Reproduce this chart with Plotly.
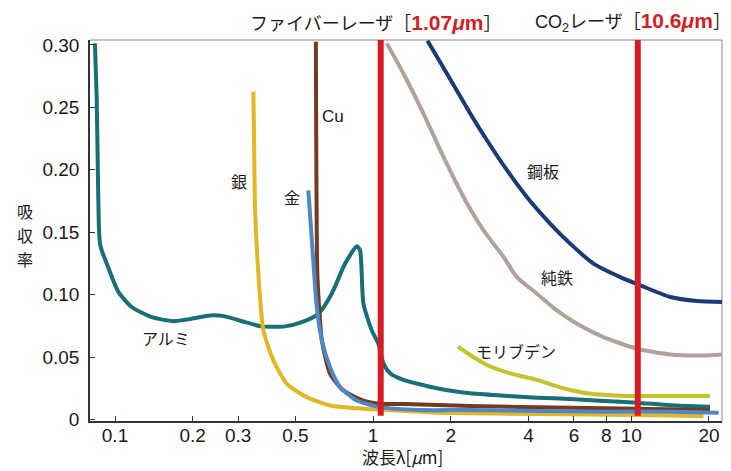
import plotly.graph_objects as go
import math

# ---- data (wavelength in µm, absorptance) ----
alu_x = [0.0836, 0.0849, 0.0857, 0.0867, 0.0875, 0.0888, 0.0929, 0.103, 0.116, 0.1387, 0.1683,
         0.198, 0.2334, 0.267, 0.319, 0.370, 0.456, 0.529, 0.614, 0.691, 0.779, 0.865, 0.890,
         0.917, 0.988, 1.048, 1.096, 1.164, 1.31, 1.766, 2.377, 3.20, 4.31, 5.80, 7.81, 10.52,
         14.16, 20.2]
alu_y = [0.3013, 0.2585, 0.2053, 0.1516, 0.1409, 0.1355, 0.1249, 0.1022, 0.0901, 0.0820, 0.0788,
         0.0807, 0.0834, 0.0826, 0.0780, 0.0746, 0.0746, 0.0780, 0.0848, 0.1008, 0.1249, 0.1387,
         0.1355, 0.0928, 0.0714, 0.0607, 0.0450, 0.0370, 0.0317, 0.0250, 0.0210, 0.0191, 0.0175,
         0.0164, 0.0148, 0.0135, 0.0114, 0.0103]

silver_x = [0.3436, 0.3457, 0.3487, 0.3592, 0.3757, 0.4108, 0.4629, 0.5534, 0.681, 0.917, 1.236,
            1.766, 4.31, 10.52, 19.06]
silver_y = [0.2625, 0.2237, 0.1702, 0.1168, 0.0714, 0.0473, 0.0286, 0.0179, 0.0112, 0.0086, 0.0072,
            0.0055, 0.0044, 0.0036, 0.0028]

gold_x = [0.561, 0.579, 0.605, 0.633, 0.681, 0.745, 0.865, 1.064, 1.52, 2.377, 4.31, 7.81, 14.16, 21.8]
gold_y = [0.1836, 0.1435, 0.0900, 0.0634, 0.0419, 0.0259, 0.0152, 0.0099, 0.0076, 0.0076, 0.0068,
          0.0063, 0.0063, 0.0055]

cu_x = [0.600, 0.608, 0.620, 0.633, 0.681, 0.767, 0.917, 1.064, 1.31, 2.377, 5.80, 10.52, 20.2]
cu_y = [0.3026, 0.1168, 0.0850, 0.0634, 0.0366, 0.0233, 0.0152, 0.0126, 0.0124, 0.0108, 0.0095,
        0.0087, 0.0076]

steel_x = [1.624, 1.93, 2.377, 2.76, 3.30, 3.94, 4.85, 5.80, 7.14, 9.07, 10.84, 14.16, 17.98, 22.47]
steel_y = [0.3034, 0.2772, 0.2452, 0.2237, 0.1997, 0.1783, 0.1570, 0.1409, 0.1249, 0.1141, 0.1075,
           0.0981, 0.0949, 0.0941]

iron_x = [1.130, 1.31, 1.567, 1.873, 2.239, 2.677, 3.20, 3.606, 4.31, 5.15, 6.16, 7.81, 10.52,
          14.16, 19.06, 22.47]
iron_y = [0.3013, 0.2772, 0.2451, 0.2103, 0.1783, 0.1516, 0.1302, 0.1141, 0.1008, 0.0874, 0.0767,
          0.0660, 0.0567, 0.0521, 0.0513, 0.0521]

mo_x = [2.13, 2.377, 2.76, 3.40, 4.31, 5.47, 6.73, 9.07, 12.21, 20.2]
mo_y = [0.0583, 0.0517, 0.0437, 0.0370, 0.0317, 0.0250, 0.0210, 0.0191, 0.0188, 0.0188]

laser_x = [1.07, 10.6]

x_ticks = [0.1, 0.2, 0.3, 0.5, 1, 2, 4, 6, 8, 10, 20]
x_tick_labels = ["0.1", "0.2", "0.3", "0.5", "1", "2", "4", "6", "8", "10", "20"]
y_ticks = [0, 0.05, 0.10, 0.15, 0.20, 0.25, 0.30]
y_tick_labels = ["0", "0.05", "0.10", "0.15", "0.20", "0.25", "0.30"]

series = [
    ("アルミ", alu_x, alu_y, "#176f78"),
    ("銀", silver_x, silver_y, "#e3b624"),
    ("Cu", cu_x, cu_y, "#763a20"),
    ("金", gold_x, gold_y, "#4d87c7"),
    ("純鉄", iron_x, iron_y, "#b0a19b"),
    ("鋼板", steel_x, steel_y, "#1b3a77"),
    ("モリブデン", mo_x, mo_y, "#c8c22a"),
]

label_text = ["アルミ", "銀", "金", "Cu", "鋼板", "純鉄", "モリブデン"]
label_x = [0.158, 0.303, 0.485, 0.70, 4.56, 5.17, 3.58]
label_y = [0.0653, 0.191, 0.178, 0.243, 0.199, 0.114, 0.0549]

y_title_chars = ["吸", "収", "率"]

TXT = "#231815"
RED = "#d71c23"
FONT = "Liberation Sans, Noto Sans CJK JP, sans-serif"
JP = "Noto Sans CJK JP, sans-serif"

fig = go.Figure()
for name, xs, ys, col in series:
    fig.add_trace(go.Scatter(x=xs, y=ys, mode="lines", name=name,
                             line=dict(color=col, width=4, shape="spline", smoothing=0.6),
                             showlegend=False, hoverinfo="skip"))

YMIN, YMAX = -0.0012, 0.304
for lx in laser_x:
    fig.add_shape(type="line", x0=lx, x1=lx, y0=0.003, y1=YMAX, xref="x", yref="y",
                  line=dict(color=RED, width=6), layer="above")

# grey top/right frame
fig.add_shape(type="line", x0=0, x1=1, y0=1, y1=1, xref="paper", yref="paper",
              line=dict(color="#8c8c8c", width=1), layer="below")
fig.add_shape(type="line", x0=1, x1=1, y0=0, y1=1, xref="paper", yref="paper",
              line=dict(color="#8c8c8c", width=1), layer="below")

for t, x, y in zip(label_text, label_x, label_y):
    fam = FONT if t == "Cu" else JP
    fig.add_annotation(x=math.log10(x), y=y, xref="x", yref="y", text=t, showarrow=False,
                       font=dict(size=17 if t == "Cu" else 16, color=TXT, family=fam))

title_font = dict(size=18, color=TXT, family=JP)
fig.add_annotation(
    x=math.log10(1.07) - 0.017, y=1.0, xref="x", yref="paper", yanchor="bottom", yshift=3,
    xanchor="center",
    text="ファイバーレーザ［<span style='color:%s;font-size:21px;font-family:Liberation Sans'><b>1.07<i>μ</i>m</b></span>］" % RED,
    showarrow=False, font=title_font)
fig.add_annotation(
    x=math.log10(10.6) - 0.02, y=1.0, xref="x", yref="paper", yanchor="bottom", yshift=3,
    xanchor="center",
    text="<span style='font-family:Liberation Sans'>CO<sub>2</sub></span>レーザ［<span style='color:%s;font-size:21px;font-family:Liberation Sans'><b>10.6<i>μ</i>m</b></span>］" % RED,
    showarrow=False, font=title_font)

for i, ch in enumerate(y_title_chars):
    fig.add_annotation(x=-0.103, y=0.55 - i * 0.062, xref="paper", yref="paper", text=ch,
                       xanchor="center", yanchor="middle", borderpad=0,
                       showarrow=False, font=dict(size=16, color=TXT, family=JP))

fig.add_annotation(x=math.log10(1.3), y=-0.0935, xref="x", yref="paper", text="波長λ[<i>μ</i>m]",
                   xanchor="center", yanchor="middle",
                   showarrow=False, font=dict(size=17, color=TXT, family=JP))

# the page adds an 8px body margin, so the figure is 8px smaller than the window
fig.update_layout(
    width=723, height=463,
    margin=dict(l=82, r=9, t=32, b=50),
    paper_bgcolor="white", plot_bgcolor="white",
    font=dict(family=FONT, color=TXT, size=19),
    xaxis=dict(type="log", range=[math.log10(0.080), math.log10(22.47)],
               tickvals=x_ticks, ticktext=x_tick_labels, ticks="inside", ticklen=5,
               tickcolor="#333", showline=True, linecolor="#333", linewidth=1.5,
               showgrid=False, zeroline=False, ticklabelstandoff=-4),
    yaxis=dict(range=[YMIN, YMAX], tickvals=y_ticks, ticktext=y_tick_labels, ticks="inside",
               ticklen=5, tickcolor="#333", showline=True, linecolor="#333", linewidth=1.5,
               showgrid=False, zeroline=False, ticklabelstandoff=5),
)

fig.write_html("out.html")
